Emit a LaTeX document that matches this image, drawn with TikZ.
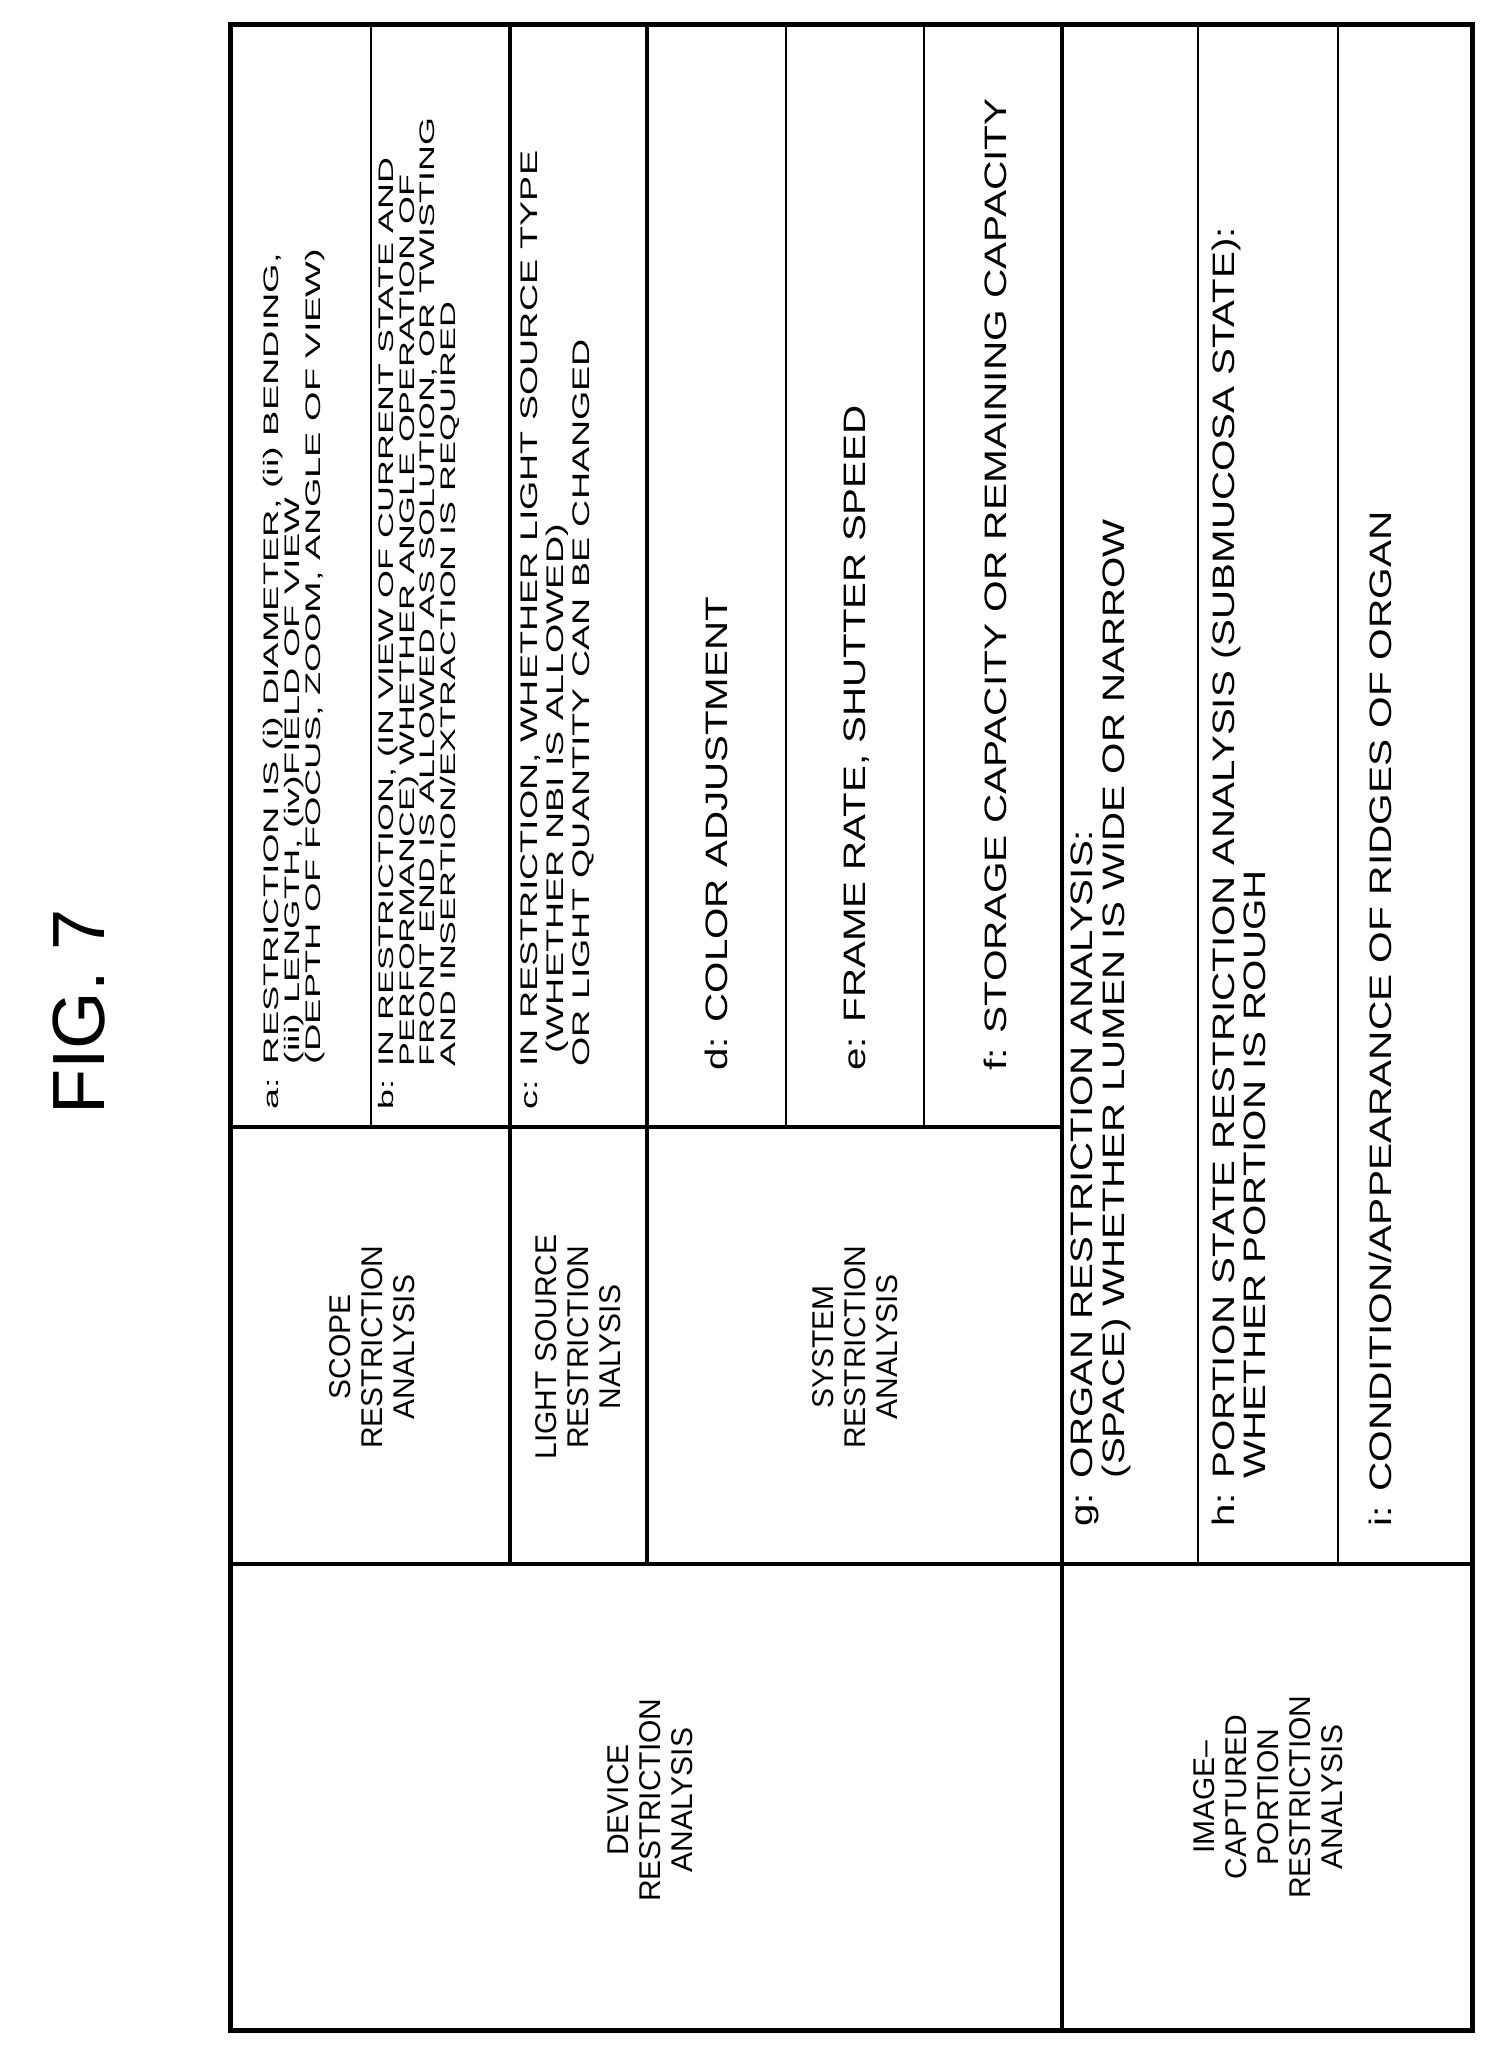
\documentclass[tikz,border=0pt]{standalone}
\usepackage{fontspec}
\setmainfont{Liberation Sans}
\newfontfamily\itemfont[FakeStretch=1.4]{Liberation Sans}
\newfontfamily\bigitemfont[FakeStretch=1.15]{Liberation Sans}
\begin{document}
\begin{tikzpicture}[x=1pt,y=-1pt,
  thickline/.style={line width=3.5pt},
  thinline/.style={line width=1.4pt},
  small/.style={rotate=90,anchor=west,align=left,inner sep=0pt,font=\fontsize{21}{19}\selectfont\itemfont},
  medium/.style={rotate=90,anchor=west,align=left,inner sep=0pt,font=\fontsize{24}{26}\selectfont\itemfont},
  large/.style={rotate=90,anchor=west,align=left,inner sep=0pt,font=\fontsize{31}{29}\selectfont\bigitemfont},
  head/.style={rotate=90,align=center,inner sep=0pt,font=\fontsize{30}{32}\selectfont}]
\useasboundingbox (0,0) rectangle (1502,2059);
\fill[white] (0,0) rectangle (1502,2059);
\node[rotate=90,font=\fontsize{74}{80}\selectfont] (fig) at (79,1012) {FIG. 7};
\draw[line width=5pt] (230,24) rectangle (1472,2030);
\draw[thickline] (510,24) -- (510,1564);
\draw[thickline] (647,24) -- (647,1564);
\draw[thickline] (1062,24) -- (1062,2030);
\draw[thickline] (230,1127) -- (1062,1127);
\draw[thickline] (230,1564) -- (1472,1564);
\draw[thinline] (371,24) -- (371,1127);
\draw[thinline] (786,24) -- (786,1127);
\draw[thinline] (924,24) -- (924,1127);
\draw[thinline] (1198,24) -- (1198,1564);
\draw[thinline] (1338,24) -- (1338,1564);
% items
\node[small] (a) at (295,1110) {\scalebox{1.29}[1]{\begin{tabular}{@{}l@{ }l@{}}a: & RESTRICTION IS (i) DIAMETER, (ii) BENDING,\\ & (iii) LENGTH, (iv)FIELD OF VIEW\\ & (DEPTH OF FOCUS, ZOOM, ANGLE OF VIEW)\end{tabular}}};
\node[small] (b) at (420,1110) {\scalebox{1.22}[1]{\begin{tabular}{@{}l@{ }l@{}}b: & IN RESTRICTION, (IN VIEW OF CURRENT STATE AND\\ & PERFORMANCE) WHETHER ANGLE OPERATION OF\\ & FRONT END IS ALLOWED AS SOLUTION, OR TWISTING\\ & AND INSERTION/EXTRACTION IS REQUIRED\end{tabular}}};
\node[medium] (c) at (558,1110) {\scalebox{1.12}[1]{\begin{tabular}{@{}l@{ }l@{}}c: & IN RESTRICTION, WHETHER LIGHT SOURCE TYPE\\ & \hspace{0.5em}(WHETHER NBI IS ALLOWED)\\ & OR LIGHT QUANTITY CAN BE CHANGED\end{tabular}}};
\node[large] (d) at (716,1071) {\scalebox{1.13}[1]{d: COLOR ADJUSTMENT}};
\node[large] (e) at (857,1071) {\scalebox{1.13}[1]{e: FRAME RATE, SHUTTER SPEED}};
\node[large] (f) at (995,1071) {\scalebox{1.14}[1]{f: STORAGE CAPACITY OR REMAINING CAPACITY}};
\node[large] (g) at (1102,1527) {\scalebox{1.13}[1]{\begin{tabular}{@{}l@{ }l@{}}g: & ORGAN RESTRICTION ANALYSIS:\\ & (SPACE) WHETHER LUMEN IS WIDE OR NARROW\end{tabular}}};
\node[large] (h) at (1243,1527) {\scalebox{1.13}[1]{\begin{tabular}{@{}l@{ }l@{}}h: & PORTION STATE RESTRICTION ANALYSIS (SUBMUCOSA STATE):\\ & WHETHER PORTION IS ROUGH\end{tabular}}};
\node[large] (i) at (1380,1527) {\scalebox{1.14}[1]{i: CONDITION/APPEARANCE OF RIDGES OF ORGAN}};
% headings
\node[head] (scope) at (372,1347) {SCOPE\\RESTRICTION\\ANALYSIS};
\node[head] (light) at (578,1347) {LIGHT SOURCE\\RESTRICTION\\NALYSIS};
\node[head] (system) at (855,1347) {SYSTEM\\RESTRICTION\\ANALYSIS};
\node[head] (device) at (650,1800) {DEVICE\\RESTRICTION\\ANALYSIS};
\node[head] (image) at (1268,1797) {IMAGE--\\CAPTURED\\PORTION\\RESTRICTION\\ANALYSIS};
\end{tikzpicture}
\end{document}
